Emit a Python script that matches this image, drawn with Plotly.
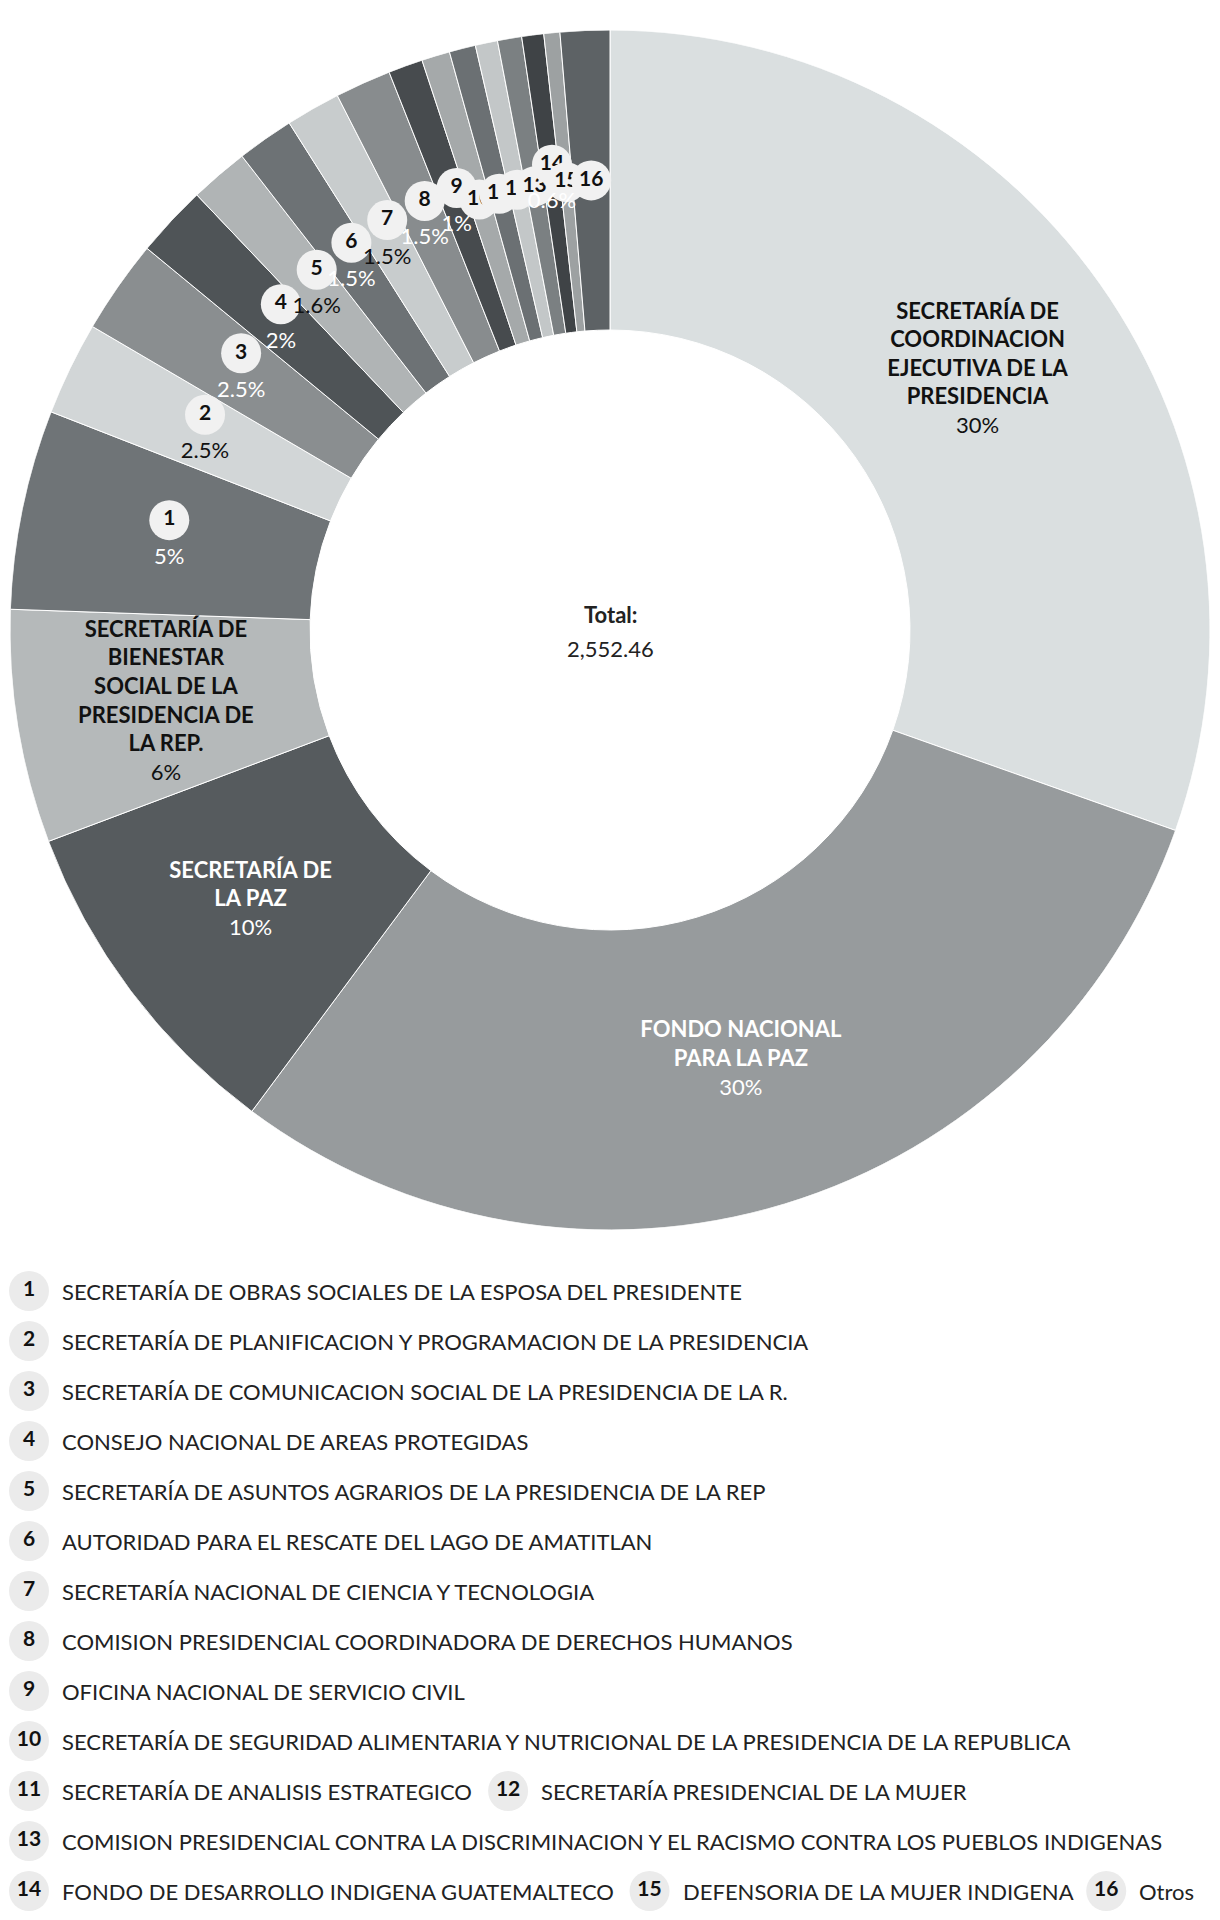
import math

import plotly.graph_objects as go

# slices, clockwise from 12 o'clock
big_names = [
    "SECRETARÍA DE<br>COORDINACION<br>EJECUTIVA DE LA<br>PRESIDENCIA",
    "FONDO NACIONAL<br>PARA LA PAZ",
    "SECRETARÍA DE<br>LA PAZ",
    "SECRETARÍA DE<br>BIENESTAR<br>SOCIAL DE LA<br>PRESIDENCIA DE<br>LA REP.",
]
small_names = [
    "SECRETARÍA DE OBRAS SOCIALES DE LA ESPOSA DEL PRESIDENTE",
    "SECRETARÍA DE PLANIFICACION Y PROGRAMACION DE LA PRESIDENCIA",
    "SECRETARÍA DE COMUNICACION SOCIAL DE LA PRESIDENCIA DE LA R.",
    "CONSEJO NACIONAL DE AREAS PROTEGIDAS",
    "SECRETARÍA DE ASUNTOS AGRARIOS DE LA PRESIDENCIA DE LA REP",
    "AUTORIDAD PARA EL RESCATE DEL LAGO DE AMATITLAN",
    "SECRETARÍA NACIONAL DE CIENCIA Y TECNOLOGIA",
    "COMISION PRESIDENCIAL COORDINADORA DE DERECHOS HUMANOS",
    "OFICINA NACIONAL DE SERVICIO CIVIL",
    "SECRETARÍA DE SEGURIDAD ALIMENTARIA Y NUTRICIONAL DE LA PRESIDENCIA DE LA REPUBLICA",
    "SECRETARÍA DE ANALISIS ESTRATEGICO",
    "SECRETARÍA PRESIDENCIAL DE LA MUJER",
    "COMISION PRESIDENCIAL CONTRA LA DISCRIMINACION Y EL RACISMO CONTRA LOS PUEBLOS INDIGENAS",
    "FONDO DE DESARROLLO INDIGENA GUATEMALTECO",
    "DEFENSORIA DE LA MUJER INDIGENA",
    "Otros",
]
values = [776.5, 759.6, 232.0, 160.3, 137.1, 64.3, 64.6, 49.5, 40.3, 39.1,
          37.5, 38.5, 23.7, 19.4, 18.1, 15.3, 16.6, 15.1, 11.0, 33.96]
pct_labels = ["30%", "30%", "10%", "6%", "5%", "2.5%", "2.5%", "2%", "1.6%", "1.5%",
              "1.5%", "1.5%", "1%", "", "", "", "", "0.6%", "", ""]
colors = ["#dadfe0", "#979b9d", "#565b5e", "#b5b9ba", "#6f7477", "#d2d6d7", "#8a8e90",
          "#4f5457", "#b0b4b5", "#6d7275", "#c8cccd", "#888c8e", "#474b4e", "#a5a9aa",
          "#6b7073", "#c3c7c8", "#7b8082", "#3f4346", "#9da1a2", "#5d6265"]

# page body has an 8px margin, so the figure is drawn 8px in from the corner
W, H = 1204, 1904
CX, CY, R_OUT, R_IN = 602, 622, 600, 300
R_LAB = (R_OUT + R_IN) / 2
FONT = "Lato, sans-serif"
LEG_SIZE = 22

# rough advance widths (em) for the legend font, used to flow the legend rows
EM = {" ": .25, "I": .29, "Í": .29, ".": .25, "E": .55, "F": .53, "L": .49, "S": .52,
      "T": .57, "P": .6, "R": .62, "B": .63, "K": .64, "A": .68, "Á": .68, "V": .68,
      "X": .64, "Y": .62, "Z": .6, "J": .39, "C": .66, "G": .72, "D": .75, "N": .76,
      "H": .76, "U": .73, "O": .8, "Q": .8, "M": .92, "W": 1.0,
      "t": .35, "r": .4, "o": .56, "s": .43}


def text_width(s, size):
    return sum(EM.get(ch, .5) for ch in s) * size


def text_color(hex_color):
    r, g, b = (int(hex_color[i:i + 2], 16) for i in (1, 3, 5))
    return "#111111" if 0.299 * r + 0.587 * g + 0.114 * b > 160 else "#ffffff"


def shifted(r, theta, dy):
    # move a polar point dy pixels up on screen, return (r, theta)
    t = math.radians(theta)
    x, y = r * math.sin(t), r * math.cos(t) + dy
    return math.hypot(x, y), math.degrees(math.atan2(x, y)) % 360


total = sum(values)
thetas, widths, start = [], [], 0.0
for v in values:
    w = v / total * 360
    thetas.append(start + w / 2)
    widths.append(w)
    start += w

fig = go.Figure()
fig.add_trace(go.Barpolar(
    r=[R_OUT - R_IN] * len(values), base=R_IN, theta=thetas, width=widths,
    marker=dict(color=colors, line=dict(color="white", width=1)),
    hoverinfo="skip",
))

# big slices: name + percent
nb = len(big_names)
fig.add_trace(go.Scatterpolar(
    r=[R_LAB] * nb, theta=thetas[:nb], mode="text",
    text=[f"<b>{n}</b><br>{p}" for n, p in zip(big_names, pct_labels[:nb])],
    textposition="middle center",
    textfont=dict(family=FONT, size=22, color=[text_color(c) for c in colors[:nb]]),
    hoverinfo="skip",
))

# small slices: numbered circle above, percent below (drawn on top)
for k, i in enumerate(range(nb, len(values)), start=1):
    r, t = shifted(R_LAB, thetas[i], 19 if pct_labels[i] else 0)
    fig.add_trace(go.Scatterpolar(
        r=[r], theta=[t], mode="markers+text", text=[f"<b>{k}</b>"],
        textposition="middle center",
        marker=dict(size=40, color="#f1f1f1", line=dict(width=0)),
        textfont=dict(family=FONT, size=21, color="#111111"), hoverinfo="skip",
    ))

pr, pt, ptxt, pcol = [], [], [], []
for i in range(nb, len(values)):
    if pct_labels[i]:
        r, t = shifted(R_LAB, thetas[i], -19)
        pr.append(r)
        pt.append(t)
        ptxt.append(pct_labels[i])
        pcol.append(text_color(colors[i]))
fig.add_trace(go.Scatterpolar(
    r=pr, theta=pt, mode="text", text=ptxt, textposition="middle center",
    textfont=dict(family=FONT, size=22, color=pcol), hoverinfo="skip",
))

# legend, flowing rows
LEG_X0, LEG_Y0, LEG_DY = 1, 1283, 50
lx, ly, cx_list, cy_list, nums = LEG_X0, LEG_Y0, [], [], []
annotations = []
for k, name in enumerate(small_names, start=1):
    w = 51 + text_width(name, LEG_SIZE)
    if lx > LEG_X0 and lx + w > W:
        lx, ly = LEG_X0, ly + LEG_DY
    cx_list.append(lx + 20)
    cy_list.append(ly)
    nums.append(f"<b>{k}</b>")
    annotations.append(dict(
        x=lx + 51, y=ly, xref="x", yref="y", text=name, showarrow=False,
        xanchor="left", yanchor="middle",
        font=dict(family=FONT, size=LEG_SIZE, color="#222222"),
    ))
    lx += w + 20

fig.add_trace(go.Scatter(
    x=cx_list, y=cy_list, mode="markers+text", text=nums, textposition="middle center",
    marker=dict(size=40, color="#ebebeb", line=dict(width=0)),
    textfont=dict(family=FONT, size=21, color="#111111"), hoverinfo="skip",
))

annotations += [
    dict(x=CX / W, y=(H - CY + 16) / H, xref="paper", yref="paper", text="<b>Total:</b>",
         showarrow=False, xanchor="center", yanchor="middle",
         font=dict(family=FONT, size=22, color="#222222")),
    dict(x=CX / W, y=(H - CY - 18) / H, xref="paper", yref="paper", text=f"{total:,.2f}",
         showarrow=False, xanchor="center", yanchor="middle",
         font=dict(family=FONT, size=22, color="#222222")),
]

fig.update_layout(
    width=W, height=H, margin=dict(l=0, r=0, t=0, b=0),
    paper_bgcolor="white", plot_bgcolor="white", showlegend=False, hovermode=False,
    polar=dict(
        domain=dict(x=[(CX - R_OUT) / W, (CX + R_OUT) / W],
                    y=[(H - CY - R_OUT) / H, (H - CY + R_OUT) / H]),
        bgcolor="rgba(0,0,0,0)", hole=0,
        radialaxis=dict(range=[0, R_OUT], visible=False),
        angularaxis=dict(visible=False, rotation=90, direction="clockwise"),
    ),
    xaxis=dict(range=[0, W], visible=False, fixedrange=True),
    yaxis=dict(range=[H, 0], visible=False, fixedrange=True),
    annotations=annotations,
)

fig.write_html("out.html")
